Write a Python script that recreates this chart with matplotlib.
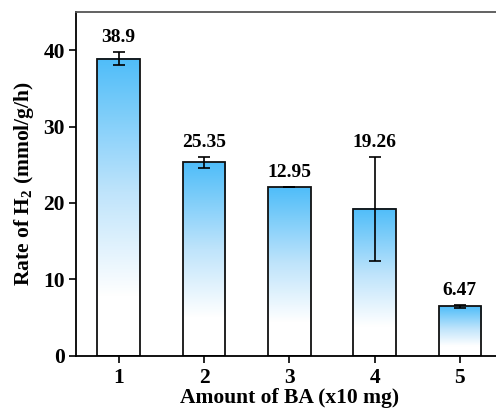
import numpy as np
import matplotlib
matplotlib.use("Agg")
from matplotlib import pyplot as plt
from matplotlib.colors import LinearSegmentedColormap

plt.rcParams['font.family'] = ['Liberation Serif', 'DejaVu Serif']
plt.rcParams['font.weight'] = 'bold'
plt.rcParams['mathtext.fontset'] = 'custom'
plt.rcParams['mathtext.rm'] = 'Liberation Serif:bold'
plt.rcParams['mathtext.bf'] = 'Liberation Serif:bold'

amounts = [1, 2, 3, 4, 5]
rates = [38.9, 25.3, 22.05, 19.26, 6.45]
errors = [0.87, 0.75, 0.0, 6.8, 0.2]
labels = ["38.9", "25.35", "12.95", "19.26", "6.47"]

fig = plt.figure(figsize=(4.96, 4.11), dpi=100)
ax = fig.add_axes([0.1532, 0.1345, 0.86, 0.8363])

width = 0.5
cmap = LinearSegmentedColormap.from_list(
    "bluefade", [(0.0, "#ffffff"), (0.2, "#ffffff"), (0.55, "#bfe4fb"), (1.0, "#4fbdf9")])
grad = np.linspace(0, 1, 256).reshape(-1, 1)

for x, h in zip(amounts, rates):
    ax.imshow(grad, cmap=cmap, origin="lower", aspect="auto",
              extent=(x - width / 2, x + width / 2, 0, h), zorder=1)

ax.bar(amounts, rates, width=width, facecolor="none", edgecolor="#111111",
       linewidth=1.3, zorder=2)
ax.errorbar(amounts, rates, yerr=errors, fmt="none", ecolor="black",
            elinewidth=1.2, capsize=4, capthick=1.2, zorder=3)

for x, h, e, t in zip(amounts, rates, errors, labels):
    ax.text(x, h + e + 0.8, t, ha="center", va="bottom", fontsize=14,
            fontweight="bold")

ax.set_xlim(0.5, 5.5)
ax.set_ylim(0, 45)
ax.set_xticks(amounts)
ax.set_yticks([0, 10, 20, 30, 40])
ax.tick_params(axis="both", direction="out", length=5, width=1.2,
               labelsize=15.5, pad=3)
ax.tick_params(axis="x", pad=4)
ax.set_xlabel("Amount of BA (x10 mg)", fontsize=15.5, fontweight="bold", labelpad=0)
ax.set_ylabel("Rate of H$_\\mathbf{2}$ (mmol/g/h)", fontsize=15.5,
              fontweight="bold", labelpad=5)

ax.spines["left"].set_linewidth(1.3)
ax.spines["bottom"].set_linewidth(1.3)
ax.spines["top"].set_color("#555555")
ax.spines["top"].set_linewidth(1.3)
ax.spines["right"].set_visible(False)

fig.savefig("out.png", dpi=100)
